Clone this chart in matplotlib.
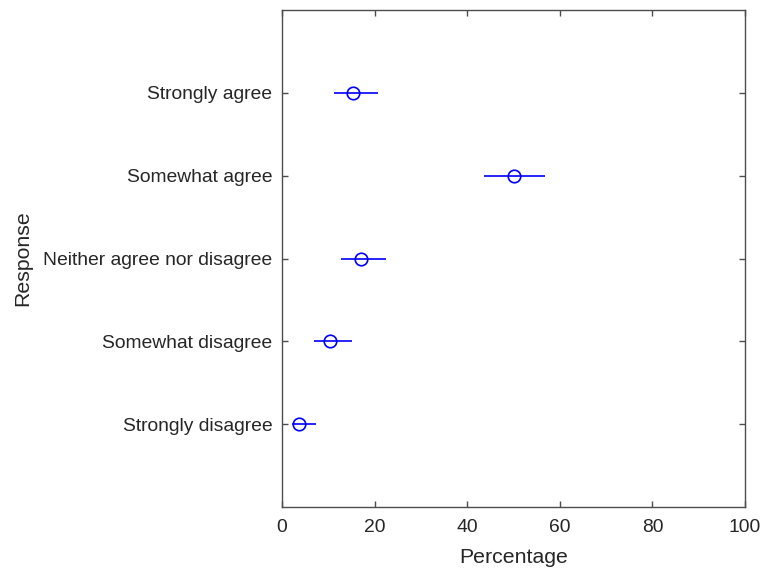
import matplotlib.pyplot as plt

categories = ["Strongly disagree", "Somewhat disagree", "Neither agree nor disagree",
              "Somewhat agree", "Strongly agree"]
means = [3.7, 10.4, 17.1, 50.1, 15.3]
lower = [2.2, 6.9, 12.7, 43.6, 11.2]
upper = [7.3, 15.1, 22.5, 56.8, 20.7]

plt.rcParams['font.family'] = ['Liberation Sans', 'DejaVu Sans']
gray = '#262626'
axcol = '#4d4d4d'

fig = plt.figure(figsize=(7.67, 5.72), dpi=100)
ax = fig.add_axes([0.3677, 0.1136, 0.6036, 0.8689])

ypos = list(range(1, len(categories) + 1))
xerr = [[m - l for m, l in zip(means, lower)], [u - m for m, u in zip(means, upper)]]
ax.errorbar(means, ypos, xerr=xerr, fmt='o', color='blue', mfc='none',
            ms=9, mew=1.2, elinewidth=1.2, capsize=0)

ax.set_xlim(0, 100)
ax.set_ylim(0, 6)
ax.set_xticks([0, 20, 40, 60, 80, 100])
ax.set_yticks(ypos)
ax.set_yticklabels(categories)
ax.tick_params(direction='in', top=True, right=True, labelsize=13.9,
               labelcolor=gray, color=axcol, length=4, width=1.0)
ax.tick_params(axis='y', pad=7)
ax.tick_params(axis='x', pad=8.5)
for s in ax.spines.values():
    s.set_color(axcol)
    s.set_linewidth(1.0)
ax.set_xlabel("Percentage", fontsize=15.3, color=gray, labelpad=9)
ax.set_ylabel("Response", fontsize=15.3, color=gray, labelpad=8)

plt.savefig("out.png", dpi=100)
